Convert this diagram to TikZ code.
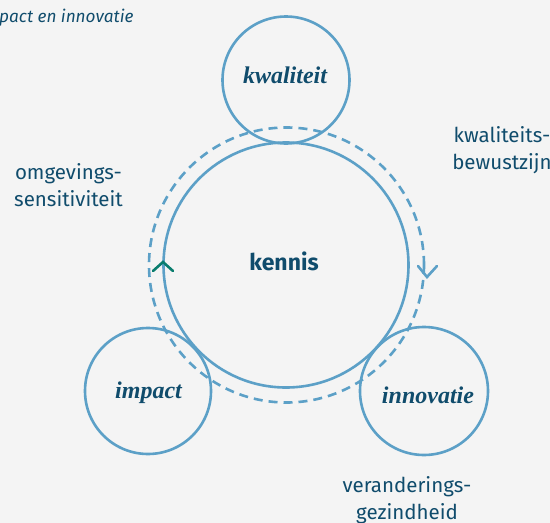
\documentclass[tikz,border=0pt]{standalone}
\usepackage{fontspec}
\setmainfont{Fira Sans}
\newfontfamily\pillarfont{Liberation Serif}
\usetikzlibrary{positioning}
\definecolor{ringblue}{RGB}{92,160,199}
\definecolor{textblue}{RGB}{16,76,108}
\definecolor{turngreen}{RGB}{10,125,110}
\definecolor{paper}{RGB}{244,244,244}

\begin{document}
\begin{tikzpicture}[x=1pt,y=-1pt,
        ring/.style={circle, draw=ringblue, line width=2.6pt, inner sep=0pt},
        pillar/.style={text=textblue, anchor=base, font=\pillarfont\bfseries\itshape\fontsize{24}{28}\selectfont},
        side/.style={text=textblue, align=center, font=\fontsize{20.5}{27}\selectfont},
        chevron/.style={line width=2.6pt, line cap=round, line join=miter}]
                \fill[paper] (0,0) rectangle (550,523);
                \useasboundingbox (0,0) rectangle (550,523);
                % cycle
                \draw[ringblue, line width=2.6pt, dash pattern=on 9pt off 6pt] (286.5,265) circle (137.5);
                \node[ring, minimum size=245pt] (kennis) at (286,265) {};
                \node[ring, minimum size=127pt] (kwaliteit) at (286,80) {};
                \node[ring, minimum size=126pt] (impact) at (148,391) {};
                \node[ring, minimum size=128pt] (innovatie) at (424,391) {};
                % texts
                \node[text=textblue, anchor=base, font=\bfseries\fontsize{23}{27}\selectfont] (kennis-t) at (284,270) {kennis};
                \node[pillar] (kwaliteit-t) at (285,83) {kwaliteit};
                \node[pillar] (impact-t) at (148.5,398) {impact};
                \node[pillar] (innovatie-t) at (428,403) {innovatie};
                \node[side] (omgeving) at (68.5,185) {omgevings-\\sensitiviteit};
                \node[side] (bewustzijn) at (502,150) {kwaliteits-\\bewustzijn};
                \node[side] (gezindheid) at (407,500) {veranderings-\\gezindheid};
                \node[text=textblue, anchor=base east, font=\itshape\fontsize{17.2}{21}\selectfont] (kop) at (137,22) {pact en innovatie};
                % turns
                \coordinate (left-tip) at (163,262);
                \coordinate (right-tip) at (427,277);
                \draw[chevron, turngreen] ([shift={(-10,9)}]left-tip) -- (left-tip) -- ([shift={(10,9)}]left-tip);
                \draw[chevron, ringblue] ([shift={(-9,-11)}]right-tip) -- (right-tip) -- ([shift={(10,-11)}]right-tip);
            \end{tikzpicture}
\end{document}
